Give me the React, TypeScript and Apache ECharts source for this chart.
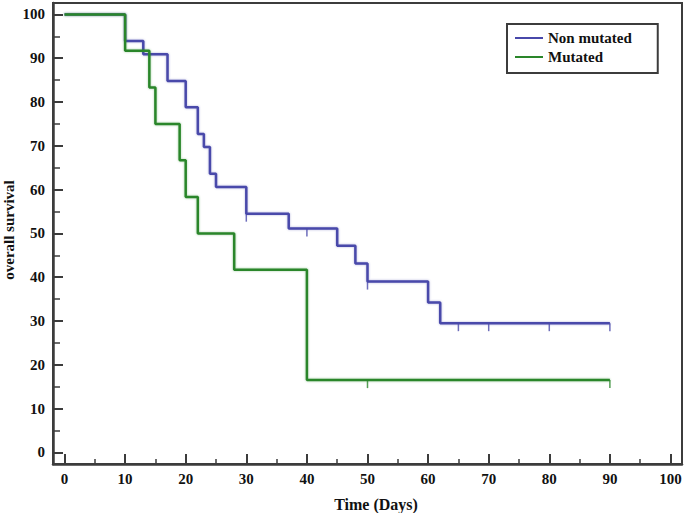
import React, { useEffect, useRef } from "react";
import * as echarts from "echarts";

const xMajorTicks = [0, 10, 20, 30, 40, 50, 60, 70, 80, 90, 100];
const xMinorTicks = [5, 15, 25, 35, 45, 55, 65, 75, 85, 95];
const yMajorTicks = [0, 10, 20, 30, 40, 50, 60, 70, 80, 90, 100];
const yMinorTicks = [5, 15, 25, 35, 45, 55, 65, 75, 85, 95];

const nonMutatedSteps: [number, number][] = [
  [0, 100], [10, 93.9], [13, 90.9], [17, 84.8], [20, 78.8], [22, 72.7],
  [23, 69.7], [24, 63.6], [25, 60.6], [30, 54.5], [37, 51.1], [45, 47.2],
  [48, 43.1], [50, 39.0], [60, 34.2], [62, 29.5], [90, 29.5],
];
const nonMutatedCensored: [number, number][] = [
  [30, 54.5], [40, 51.1], [50, 39.0], [65, 29.5], [70, 29.5], [80, 29.5], [90, 29.5],
];
const mutatedSteps: [number, number][] = [
  [0, 100], [10, 91.7], [14, 83.3], [15, 75.0], [19, 66.7], [20, 58.3],
  [22, 50.0], [28, 41.7], [40, 16.5], [90, 16.5],
];
const mutatedCensored: [number, number][] = [[50, 16.5], [90, 16.5]];

const BLUE = "#4848aa";
const GREEN = "#2a862a";
const AXIS = "#3c3c3c";
const FONT = "'Liberation Serif', 'DejaVu Serif', serif";

export default function App() {
  const ref = useRef<HTMLDivElement>(null);
  useEffect(() => {
    if (!ref.current) return;
    const chart = echarts.init(ref.current, undefined, { renderer: "svg" });
    const labelStyle = { fontFamily: FONT, fontWeight: "bold" as const, fontSize: 15, color: "#111" };
    const xCommon = { type: "value" as const, min: -1.9, max: 101.9, gridIndex: 0, position: "bottom" as const, splitLine: { show: false } };
    const yCommon = { type: "value" as const, min: -2.65, max: 102.6, gridIndex: 0, position: "left" as const, splitLine: { show: false } };
    chart.setOption({
      animation: false,
      grid: { left: 53, right: 3, top: 3, bottom: 49, show: true, borderColor: AXIS, borderWidth: 2, backgroundColor: "transparent" },
      legend: {
        left: 507, top: 24, orient: "vertical",
        padding: [6, 26, 8, 8], itemGap: 3, itemWidth: 28, itemHeight: 2, icon: "rect",
        borderColor: AXIS, borderWidth: 2, backgroundColor: "#fff",
        textStyle: { ...labelStyle, lineHeight: 16 },
        data: ["Non mutated", "Mutated"],
      },
      xAxis: [
        {
          ...xCommon,
          axisLine: { show: true, onZero: false, lineStyle: { color: AXIS, width: 2.5 } },
          axisTick: { show: true, inside: true, length: 10, customValues: xMajorTicks, lineStyle: { color: AXIS, width: 2 } },
          axisLabel: { show: true, margin: 7, customValues: xMajorTicks, ...labelStyle },
        },
        {
          ...xCommon,
          axisLine: { show: false, onZero: false },
          axisTick: { show: true, inside: true, length: 5, customValues: xMinorTicks, lineStyle: { color: AXIS, width: 1.5 } },
          axisLabel: { show: false },
        },
      ],
      yAxis: [
        {
          ...yCommon,
          axisLine: { show: true, onZero: false, lineStyle: { color: AXIS, width: 2.5 } },
          axisTick: { show: true, inside: true, length: 10, customValues: yMajorTicks, lineStyle: { color: AXIS, width: 2 } },
          axisLabel: { show: true, margin: 8, customValues: yMajorTicks, ...labelStyle },
        },
        {
          ...yCommon,
          axisLine: { show: false, onZero: false },
          axisTick: { show: true, inside: true, length: 7, customValues: yMinorTicks, lineStyle: { color: AXIS, width: 1.5 } },
          axisLabel: { show: false },
        },
      ],
      graphic: [
        { type: "text", x: 376, y: 504, style: { text: "Time (Days)", font: `bold 16px ${FONT}`, fill: "#111", align: "center", verticalAlign: "middle" } },
        { type: "text", x: 9, y: 230, rotation: Math.PI / 2, style: { text: "overall survival", font: `bold 15px ${FONT}`, fill: "#111", align: "center", verticalAlign: "middle" } },
      ],
      series: [
        {
          name: "Non mutated", type: "line", step: "end", data: nonMutatedSteps,
          showSymbol: false, symbol: "none", color: BLUE,
          lineStyle: { color: BLUE, width: 2.5, shadowColor: "rgba(72,72,170,0.4)", shadowBlur: 2 },
          z: 3,
        },
        {
          name: "Non mutated", type: "scatter", data: nonMutatedCensored,
          symbol: "rect", symbolSize: [1.5, 8], symbolOffset: [0, 4], itemStyle: { color: BLUE }, z: 3,
        },
        {
          name: "Mutated", type: "line", step: "end", data: mutatedSteps,
          showSymbol: false, symbol: "none", color: GREEN,
          lineStyle: { color: GREEN, width: 2.5, shadowColor: "rgba(42,134,42,0.4)", shadowBlur: 2 },
          z: 4,
        },
        {
          name: "Mutated", type: "scatter", data: mutatedCensored,
          symbol: "rect", symbolSize: [1.5, 8], symbolOffset: [0, 4], itemStyle: { color: GREEN }, z: 4,
        },
      ],
    });
    return () => chart.dispose();
  }, []);
  return <div ref={ref} style={{ position: "fixed", left: 0, top: 0, width: 685, height: 513, background: "#fff" }} />;
}
